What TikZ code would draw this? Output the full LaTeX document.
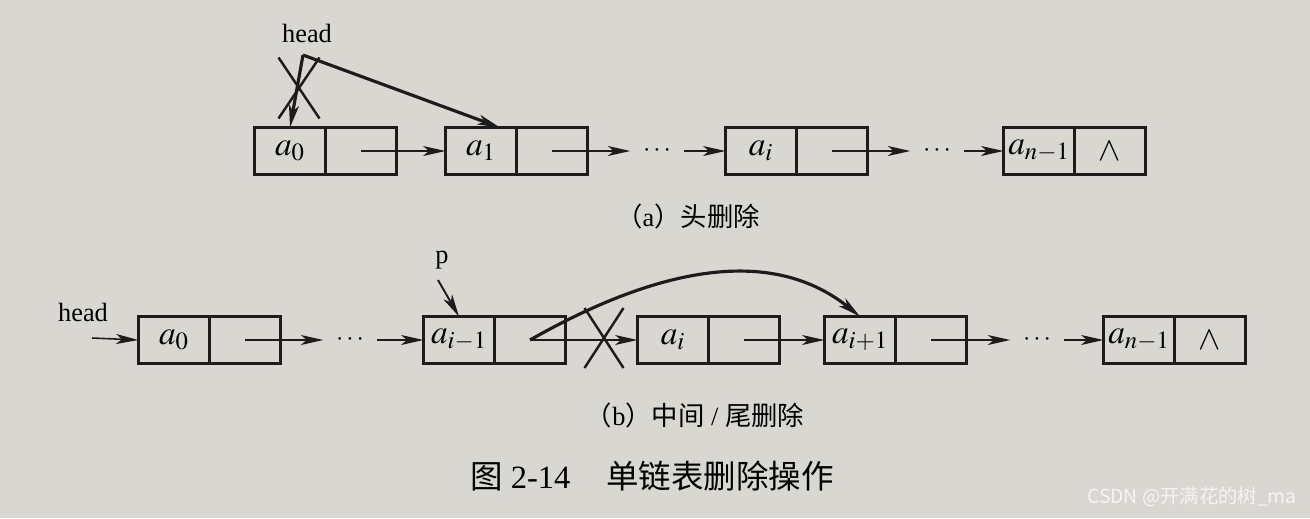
\documentclass[tikz,border=0pt]{standalone}
\usepackage{mathptmx}
\usepackage{fontspec}
\setmainfont{Liberation Serif}
\newfontfamily\cjk{Noto Sans CJK SC}
\usetikzlibrary{arrows.meta,shapes.misc}
\definecolor{paper}{RGB}{217,215,210}
\definecolor{ink}{RGB}{28,28,28}
\definecolor{wmcolor}{RGB}{244,244,244}

\begin{document}
\begin{tikzpicture}[x=0.02cm, y=-0.02cm,
  field/.style={draw=ink, line width=1.3pt, minimum width=1.42cm, minimum height=0.94cm, inner sep=0pt, outer sep=0pt, font=\fontsize{19}{22}\selectfont},
  dotsnode/.style={inner sep=0.25cm, font=\fontsize{15}{18}\selectfont},
  link/.style={draw=ink, line width=0.9pt, -{Stealth[length=0.45cm, width=0.2cm, inset=0.12cm]}},
  newlink/.style={draw=ink, line width=1.8pt, -{Stealth[length=0.45cm, width=0.2cm, inset=0.12cm]}},
  cut/.style={cross out, draw=ink, line width=1.4pt, inner sep=0pt, outer sep=0pt},
  lbl/.style={font=\fontsize{15}{18}\selectfont, inner sep=0pt},
  captext/.style={font=\fontsize{15}{18}\selectfont, inner sep=0pt}]

\useasboundingbox[fill=paper] (0,0) rectangle (1310,518);

% (a)
\node[field] (a0) at (290,151) {$a_0$};
\node[field] (a0next) at (361,151) {};
\node[field] (a1) at (481,151) {$a_1$};
\node[field] (a1next) at (552,151) {};
\node[field] (ai) at (761,151) {$a_i$};
\node[field] (ainext) at (832,151) {};
\node[field] (an) at (1039,151) {$a_{n-1}$};
\node[field] (annext) at (1110,151) {$\wedge$};
\node[dotsnode] (dotsA1) at (657,151) {$\cdots$};
\node[dotsnode] (dotsA2) at (937,151) {$\cdots$};

\node[lbl] (headlblA) at (307,33) {head};
\coordinate (headA) at (303,55);
\node[cut, minimum width=0.82cm, minimum height=1.22cm] (cutA) at (299,88) {};

\draw[link] (a0next.center) -- (a1.west);
\draw[link] (a1next.center) -- (dotsA1.west);
\draw[link] (dotsA1.east) -- (ai.west);
\draw[link] (ainext.center) -- (dotsA2.west);
\draw[link] (dotsA2.east) -- (an.west);
\draw[newlink] (headA) -- (a0.north);
\draw[newlink] (headA) -- ([xshift=0.38cm]a1.north);

\node[captext] (capA) at (688,216) {{\cjk （}a{\cjk ）头删除}};

% (b)
\node[field] (b0) at (174,340) {$a_0$};
\node[field] (b0next) at (245,340) {};
\node[field] (bim) at (459,340) {$a_{i-1}$};
\node[field] (bimnext) at (530,340) {};
\node[field] (bi) at (673,340) {$a_i$};
\node[field] (binext) at (744,340) {};
\node[field] (bip) at (860,340) {$a_{i+1}$};
\node[field] (bipnext) at (931,340) {};
\node[field] (bn) at (1139,340) {$a_{n-1}$};
\node[field] (bnnext) at (1210,340) {$\wedge$};
\node[dotsnode] (dotsB1) at (350,340) {$\cdots$};
\node[dotsnode] (dotsB2) at (1037,340) {$\cdots$};

\node[lbl] (headlblB) at (83,312) {head};
\coordinate (headB) at (92,338);
\node[lbl] (plbl) at (442,260) {p};
\coordinate (pB) at (438,280);
\node[cut, minimum width=0.78cm, minimum height=1.2cm] (cutB) at (604,338) {};

\draw[link] (headB) -- (b0.west);
\draw[link] (b0next.center) -- (dotsB1.west);
\draw[link] (dotsB1.east) -- (bim.west);
\draw[link] (bimnext.center) -- (bi.west);
\draw[link] (binext.center) -- (bip.west);
\draw[link] (bipnext.center) -- (dotsB2.west);
\draw[link] (dotsB2.east) -- (bn.west);
\draw[link, line width=1.1pt] (pB) -- (bim.north);
\draw[newlink] (bimnext.center) .. controls +(109,-62) and +(-97,-78) .. (bip.north);

\node[captext] (capB) at (695,415) {{\cjk （}b{\cjk ）中间} / {\cjk 尾删除}};

\node[font=\fontsize{18.5}{21}\selectfont, inner sep=0pt] (title) at (652,476) {{\cjk 图} 2-14\hspace{1.1em}{\cjk 单链表删除操作}};
\node[font=\cjk\fontsize{11}{13}\selectfont, text=wmcolor, inner sep=0pt] (wmark) at (1192,497) {CSDN @开满花的树\_ma};
\end{tikzpicture}
\end{document}
